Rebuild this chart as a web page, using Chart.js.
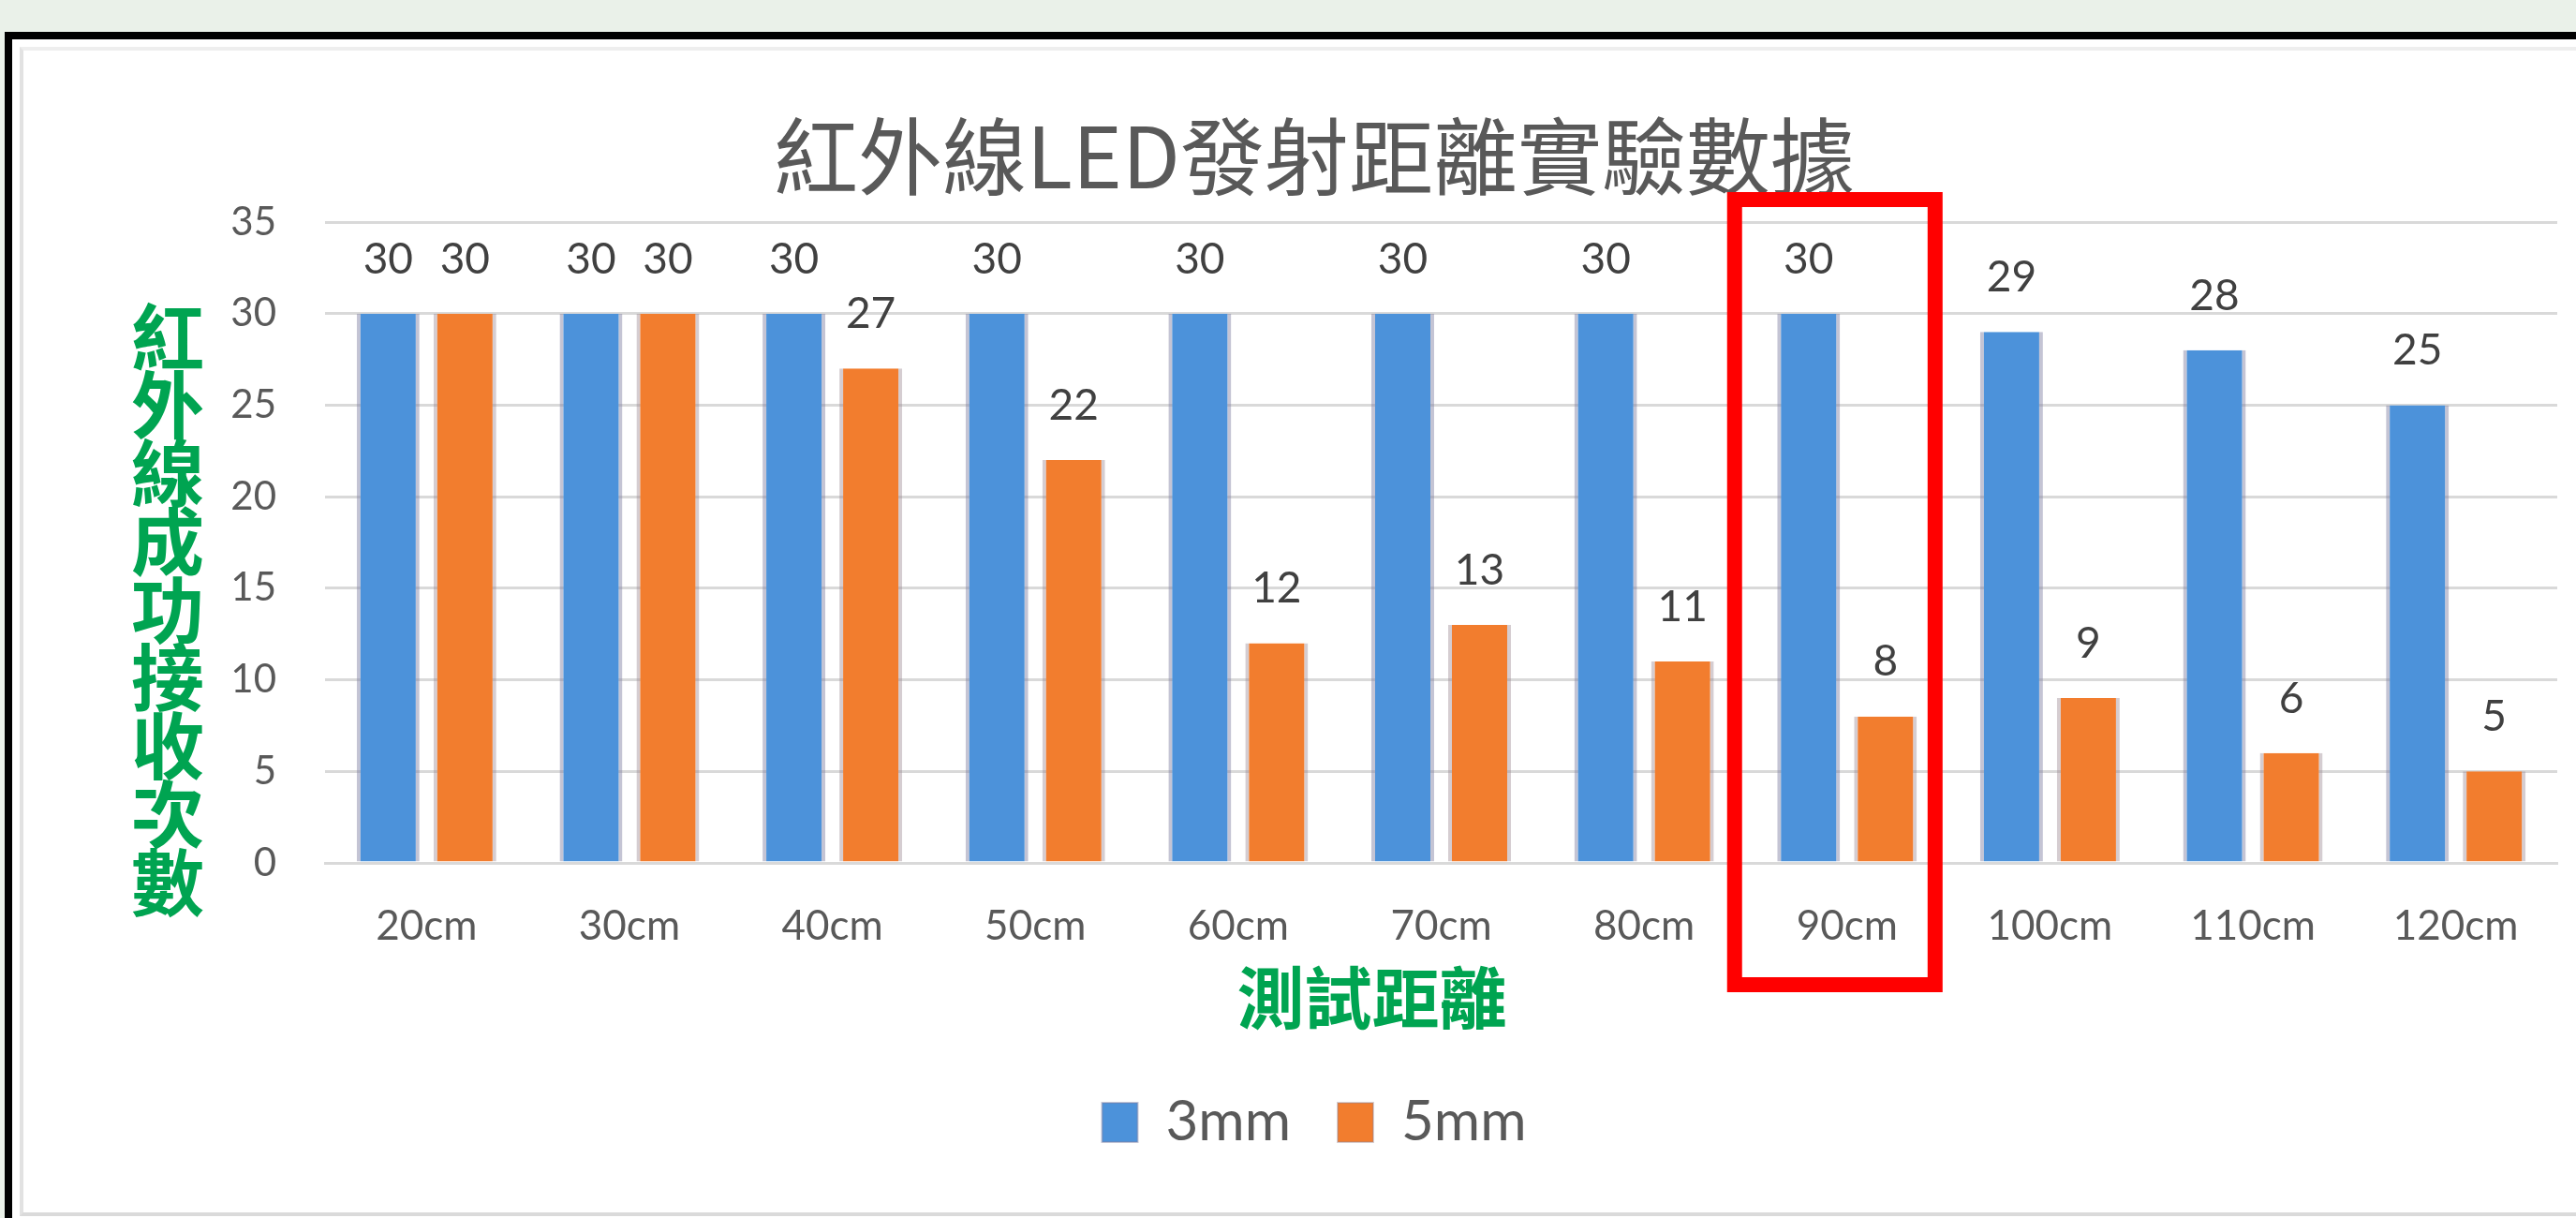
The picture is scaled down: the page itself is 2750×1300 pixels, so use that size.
<!DOCTYPE html>
<html lang="zh-Hant">
<head>
<meta charset="utf-8">
<title>紅外線LED發射距離實驗數據</title>
<script src="https://cdn.jsdelivr.net/npm/chart.js@4/dist/chart.umd.min.js"></script>
<style>
  html, body { margin: 0; padding: 0; }
  body { width: 2750px; height: 1300px; background: #EAF1E9; position: relative; overflow: hidden; }
  .frame { position: absolute; left: 5px; top: 34px; right: 0; bottom: 0; background: #ffffff;
           border-left: 8px solid #000; border-top: 8px solid #000; }
  .inner { position: absolute; left: 8px; top: 8px; right: 0; bottom: 2px;
           border-left: 4px solid #E2E2E2; border-top: 4px solid #EEEEEE; border-bottom: 4px solid #DADADA; }
  #chart { position: absolute; left: 0; top: 0; }
</style>
</head>
<body>
<div class="frame"><div class="inner"></div></div>
<canvas id="chart" width="2750" height="1300"></canvas>
<script>
// Test distances and successful IR receptions (out of 30 trials) per LED size
const categories = ['20cm', '30cm', '40cm', '50cm', '60cm', '70cm', '80cm', '90cm', '100cm', '110cm', '120cm'];
const received3mm = [30, 30, 30, 30, 30, 30, 30, 30, 29, 28, 25];
const received5mm = [30, 30, 27, 22, 12, 13, 11, 8, 9, 6, 5];
const seriesNames = ['3mm', '5mm'];
const yTickValues = [0, 5, 10, 15, 20, 25, 30, 35];

const chartTitle = '紅外線LED發射距離實驗數據';
const yTitle = '紅外線成功接收次數';
const xTitle = '測試距離';
const highlightIndex = 7; // 90cm

const CJK = "'Noto Sans CJK TC', 'Noto Sans CJK SC', sans-serif";
const LATIN = "Lato, 'Open Sans', 'Liberation Sans', sans-serif";
const GREEN = '#00A451';

// Value labels above every bar
const valueLabels = {
  id: 'valueLabels',
  afterDatasetsDraw(chart) {
    const ctx = chart.ctx;
    ctx.save();
    ctx.font = '46px ' + LATIN;
    ctx.fillStyle = '#404040';
    ctx.textAlign = 'center';
    ctx.textBaseline = 'middle';
    chart.data.datasets.forEach((ds, di) => {
      chart.getDatasetMeta(di).data.forEach((bar, i) => {
        ctx.fillText(String(ds.data[i]), bar.x, bar.y - 58);
      });
    });
    ctx.restore();
  }
};

// Stacked vertical y-axis caption, x-axis caption and the highlight box
const captions = {
  id: 'captions',
  afterDraw(chart) {
    const ctx = chart.ctx;
    const area = chart.chartArea;
    const xs = chart.scales.x;
    ctx.save();
    ctx.fillStyle = GREEN;
    ctx.textAlign = 'center';
    ctx.textBaseline = 'middle';
    ctx.font = 'bold 78px ' + CJK;
    const chars = Array.from(yTitle);
    const pitch = 72.75;
    chars.forEach((ch, i) => {
      ctx.fillText(ch, area.left - 168, area.top + 123 + i * pitch);
    });
    ctx.font = 'bold 72px ' + CJK;
    ctx.fillText(xTitle, (area.left + area.right) / 2 - 74, area.bottom + 144);

    // highlight box around one category
    const catW = (xs.right - xs.left) / categories.length;
    const cx = xs.getPixelForValue(highlightIndex);
    ctx.strokeStyle = '#FF0000';
    ctx.lineWidth = 16;
    const left = cx - 0.554 * catW;
    const right = cx + 0.434 * catW;
    const top = area.top - 24;
    const bottom = area.bottom + 130;
    ctx.strokeRect(left, top, right - left, bottom - top);
    ctx.restore();
  }
};

new Chart(document.getElementById('chart'), {
  type: 'bar',
  data: {
    labels: categories,
    datasets: [
      {
        label: seriesNames[0],
        data: received3mm,
        backgroundColor: '#4C92DA',
        borderColor: 'rgba(125,125,160,0.45)',
        borderWidth: { left: 4, right: 4, top: 0, bottom: 0 },
        borderSkipped: 'start',
        categoryPercentage: 0.757,
        barPercentage: 0.817
      },
      {
        label: seriesNames[1],
        data: received5mm,
        backgroundColor: '#F27D2E',
        borderColor: 'rgba(150,130,140,0.4)',
        borderWidth: { left: 4, right: 4, top: 0, bottom: 0 },
        borderSkipped: 'start',
        categoryPercentage: 0.757,
        barPercentage: 0.817
      }
    ]
  },
  options: {
    responsive: false,
    devicePixelRatio: 1,
    animation: false,
    layout: { padding: { top: 113, left: 76, right: 20, bottom: 62 } },
    plugins: {
      title: {
        display: true,
        text: chartTitle,
        color: '#595959',
        font: { family: CJK, size: 90, weight: 'normal', lineHeight: 1.2 },
        padding: { top: 0, bottom: 16 }
      },
      legend: {
        position: 'bottom',
        labels: {
          color: '#595959',
          font: { family: LATIN, size: 60 },
          boxWidth: 38,
          boxHeight: 42,
          padding: 50
        }
      },
      tooltip: { enabled: false }
    },
    scales: {
      x: {
        grid: { display: false },
        border: { display: true, color: '#D9D9D9', width: 3 },
        ticks: { color: '#595959', font: { family: LATIN, size: 44 }, padding: 33, maxRotation: 0 },
        afterFit(scale) { scale.height = 197; }
      },
      y: {
        min: 0,
        max: 35,
        afterBuildTicks(scale) { scale.ticks = yTickValues.map(v => ({ value: v })); },
        grid: { color: '#D9D9D9', lineWidth: 3, drawTicks: false },
        border: { display: false },
        ticks: { color: '#595959', font: { family: LATIN, size: 42 }, padding: 52 },
        afterFit(scale) { scale.width = 271; }
      }
    }
  },
  plugins: [valueLabels, captions]
});
</script>
</body>
</html>
